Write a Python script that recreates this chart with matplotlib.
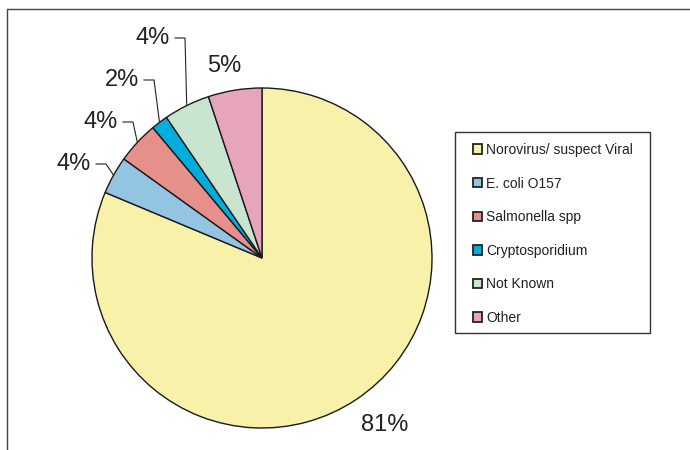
import matplotlib.pyplot as plt
import numpy as np
from matplotlib.patches import Rectangle

plt.rcParams['font.family'] = ['Liberation Sans', 'DejaVu Sans']

# outbreak causes, share of outbreaks (%)
categories = ['Norovirus/ suspect Viral', 'E. coli O157', 'Salmonella spp',
              'Cryptosporidium', 'Not Known', 'Other']
shares = [81.3, 3.6, 4.0, 1.6, 4.4, 5.1]
colors = ['#F8F1A9', '#93C4E1', '#E5908A', '#00ADDB', '#C9E5D0', '#E7A5BC']

W, H = 690, 450

# label layout in pixels from top-left: (x, y, ha, leader line?)
label_pos = [(385, 425, 'center', False),
             (91, 164, 'right', True),
             (118, 122, 'right', True),
             (139, 80, 'right', True),
             (170, 38, 'right', True),
             (224, 66, 'center', False)]

fig = plt.figure(figsize=(W / 100, H / 100), dpi=100)
ax = fig.add_axes([0, 0, 1, 1])

cx, cy, r = 262, H - 258, 170
wedges, _ = ax.pie(shares, colors=colors, startangle=90, counterclock=False,
                   center=(cx, cy), radius=r,
                   wedgeprops=dict(edgecolor='#1a1a1a', linewidth=1.0))
ax.set_xlim(0, W)
ax.set_ylim(0, H)
ax.set_aspect('equal')
ax.axis('off')

total = sum(shares)
for w, val, (lx, ly, ha, leader) in zip(wedges, shares, label_pos):
    ax.text(lx, H - ly, f'{val / total * 100:.0f}%', ha=ha, va='center',
            fontsize=17, color='#222222')
    if leader:
        mid = np.deg2rad((w.theta1 + w.theta2) / 2)
        ex, ey = cx + r * np.cos(mid), cy + r * np.sin(mid)
        ax.plot([lx + 5, lx + 15, ex], [H - ly, H - ly, ey],
                color='#222222', linewidth=0.8)

# chart border (cropped plot area)
ax.plot([7, 7, W], [0, H - 9, H - 9], color='#444444', linewidth=1.0,
        clip_on=False)

# legend box
ax.add_patch(Rectangle((455, H - 333), 195, 333 - 131.5, facecolor='white',
                       edgecolor='#333333', linewidth=1.0, zorder=3))
leg = ax.legend(wedges, categories, loc='upper left',
                bbox_to_anchor=(473 / W, 1 - 143 / H),
                fontsize=10, frameon=False, borderpad=0, handlelength=0.65,
                handleheight=0.65, handletextpad=0.3, labelspacing=1.41,
                borderaxespad=0)
leg.set_zorder(4)
for t in leg.get_texts():
    t.set_color('#222222')
for h in leg.legend_handles:
    h.set_linewidth(1.3)
    h.set_edgecolor('#222222')

plt.savefig('out.png', dpi=100)
